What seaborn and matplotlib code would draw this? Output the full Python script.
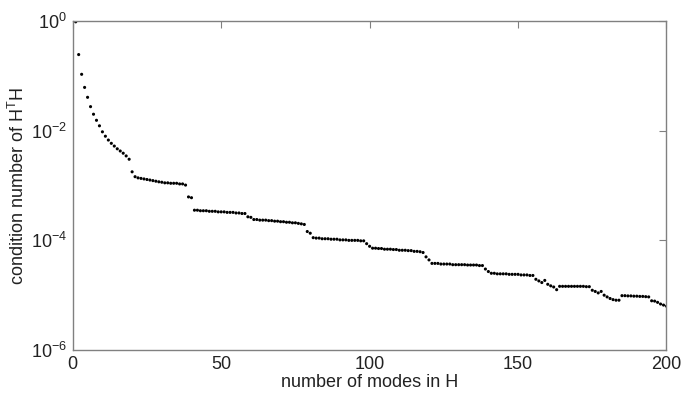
import numpy as np
import pandas as pd
import matplotlib
matplotlib.use("Agg")
import matplotlib.pyplot as plt
import seaborn as sns
from matplotlib.ticker import FixedLocator, NullLocator

# mode counts
modes = list(range(1, 201))

# condition number of H^T H
cond = [
    0.97, 0.245, 0.107, 0.0617, 0.0407, 0.0275, 0.0200, 0.0155, 0.0123, 0.00955,
    0.00794, 0.00676, 0.00589, 0.00525, 0.00468, 0.00427, 0.00389, 0.00347, 0.00302, 0.00178,
    0.00145,
    1.38e-3, 1.35e-3, 1.32e-3, 1.29e-3, 1.26e-3, 1.23e-3, 1.20e-3, 1.17e-3, 1.15e-3, 1.12e-3,
    1.12e-3, 1.10e-3, 1.10e-3, 1.10e-3, 1.07e-3, 1.07e-3, 1.02e-3,
    6.2e-4, 6.0e-4,
    3.55e-4, 3.55e-4, 3.47e-4, 3.47e-4, 3.47e-4, 3.39e-4, 3.39e-4, 3.39e-4, 3.31e-4, 3.31e-4,
    3.31e-4, 3.24e-4, 3.24e-4, 3.24e-4, 3.16e-4, 3.16e-4, 3.09e-4, 3.09e-4,
    2.69e-4, 2.63e-4,
    2.40e-4, 2.40e-4, 2.34e-4, 2.34e-4, 2.34e-4, 2.29e-4, 2.29e-4, 2.24e-4, 2.24e-4, 2.19e-4,
    2.19e-4, 2.14e-4, 2.14e-4, 2.09e-4, 2.09e-4, 2.04e-4, 2.00e-4, 1.95e-4,
    1.45e-4, 1.35e-4,
    1.12e-4, 1.10e-4, 1.10e-4, 1.07e-4, 1.07e-4, 1.07e-4, 1.05e-4, 1.05e-4, 1.05e-4, 1.02e-4,
    1.02e-4, 1.02e-4, 1.00e-4, 1.00e-4, 1.00e-4, 1.00e-4, 9.8e-5, 9.8e-5,
    8.7e-5, 7.8e-5,
    7.2e-5, 7.2e-5, 7.1e-5, 7.1e-5, 6.9e-5, 6.9e-5, 6.9e-5, 6.8e-5, 6.8e-5, 6.6e-5,
    6.6e-5, 6.6e-5, 6.5e-5, 6.5e-5, 6.3e-5, 6.3e-5, 6.2e-5, 6.0e-5,
    5.0e-5, 4.4e-5,
    3.8e-5, 3.8e-5, 3.8e-5, 3.7e-5, 3.7e-5, 3.7e-5, 3.7e-5, 3.6e-5, 3.6e-5, 3.6e-5,
    3.6e-5, 3.6e-5, 3.55e-5, 3.55e-5, 3.55e-5, 3.55e-5, 3.47e-5, 3.47e-5,
    3.0e-5, 2.7e-5,
    2.51e-5, 2.51e-5, 2.45e-5, 2.45e-5, 2.45e-5, 2.45e-5, 2.40e-5, 2.40e-5, 2.40e-5, 2.40e-5,
    2.34e-5, 2.34e-5, 2.34e-5, 2.29e-5, 2.29e-5,
    1.95e-5, 1.82e-5, 1.70e-5, 1.86e-5, 1.58e-5, 1.48e-5, 1.41e-5, 1.26e-5,
    1.45e-5, 1.45e-5, 1.45e-5, 1.45e-5, 1.45e-5, 1.45e-5, 1.45e-5, 1.45e-5, 1.45e-5, 1.43e-5,
    1.43e-5,
    1.23e-5, 1.17e-5, 1.10e-5, 1.17e-5, 1.00e-5, 9.3e-6, 8.7e-6, 8.3e-6, 8.1e-6, 8.1e-6,
    9.8e-6, 9.8e-6, 9.7e-6, 9.7e-6, 9.6e-6, 9.6e-6, 9.5e-6, 9.5e-6, 9.4e-6, 9.3e-6,
    7.9e-6, 7.8e-6, 7.4e-6, 6.9e-6, 6.6e-6, 6.3e-6,
]

x_ticks = [0, 50, 100, 150, 200]
y_ticks = [1e-6, 1e-4, 1e-2, 1e0]

df = pd.DataFrame({"modes": modes, "cond": cond})

sns.set_theme(style="white")
plt.rcParams["font.family"] = ["Liberation Sans", "DejaVu Sans"]
plt.rcParams["mathtext.fontset"] = "custom"
plt.rcParams["mathtext.rm"] = "Liberation Sans"
plt.rcParams["mathtext.it"] = "Liberation Sans"
plt.rcParams["mathtext.default"] = "regular"
plt.rcParams["axes.unicode_minus"] = False

fig = plt.figure(figsize=(6.81, 3.98), dpi=100)
ax = fig.add_axes([0.1068, 0.1206, 0.8719, 0.8264])

sns.scatterplot(data=df, x="modes", y="cond", ax=ax, color="black",
                marker="o", s=5, edgecolor="none", linewidth=0, legend=False)

ax.set_yscale("log")
ax.set_xlim(0, 200)
ax.set_ylim(1e-6, 1e0)
ax.xaxis.set_major_locator(FixedLocator(x_ticks))
ax.yaxis.set_major_locator(FixedLocator(y_ticks))
ax.yaxis.set_minor_locator(NullLocator())
ax.set_yticklabels([r"$10^{-6}$", r"$10^{-4}$", r"$10^{-2}$", r"$10^{0}$"])

text_color = "#222222"
spine_color = "#808080"
for sp in ax.spines.values():
    sp.set_visible(True)
    sp.set_color(spine_color)
    sp.set_linewidth(1.0)

ax.tick_params(axis="both", which="major", direction="in", length=5, width=0.8,
               color=spine_color, labelcolor=text_color, labelsize=13,
               top=True, right=True, pad=4)

ax.set_xlabel("number of modes in H", fontsize=13, color=text_color, labelpad=1)
ax.set_ylabel(r"condition number of H$^{T}$H", fontsize=13, color=text_color, labelpad=2)

fig.savefig("out.png", dpi=100, facecolor="white")
